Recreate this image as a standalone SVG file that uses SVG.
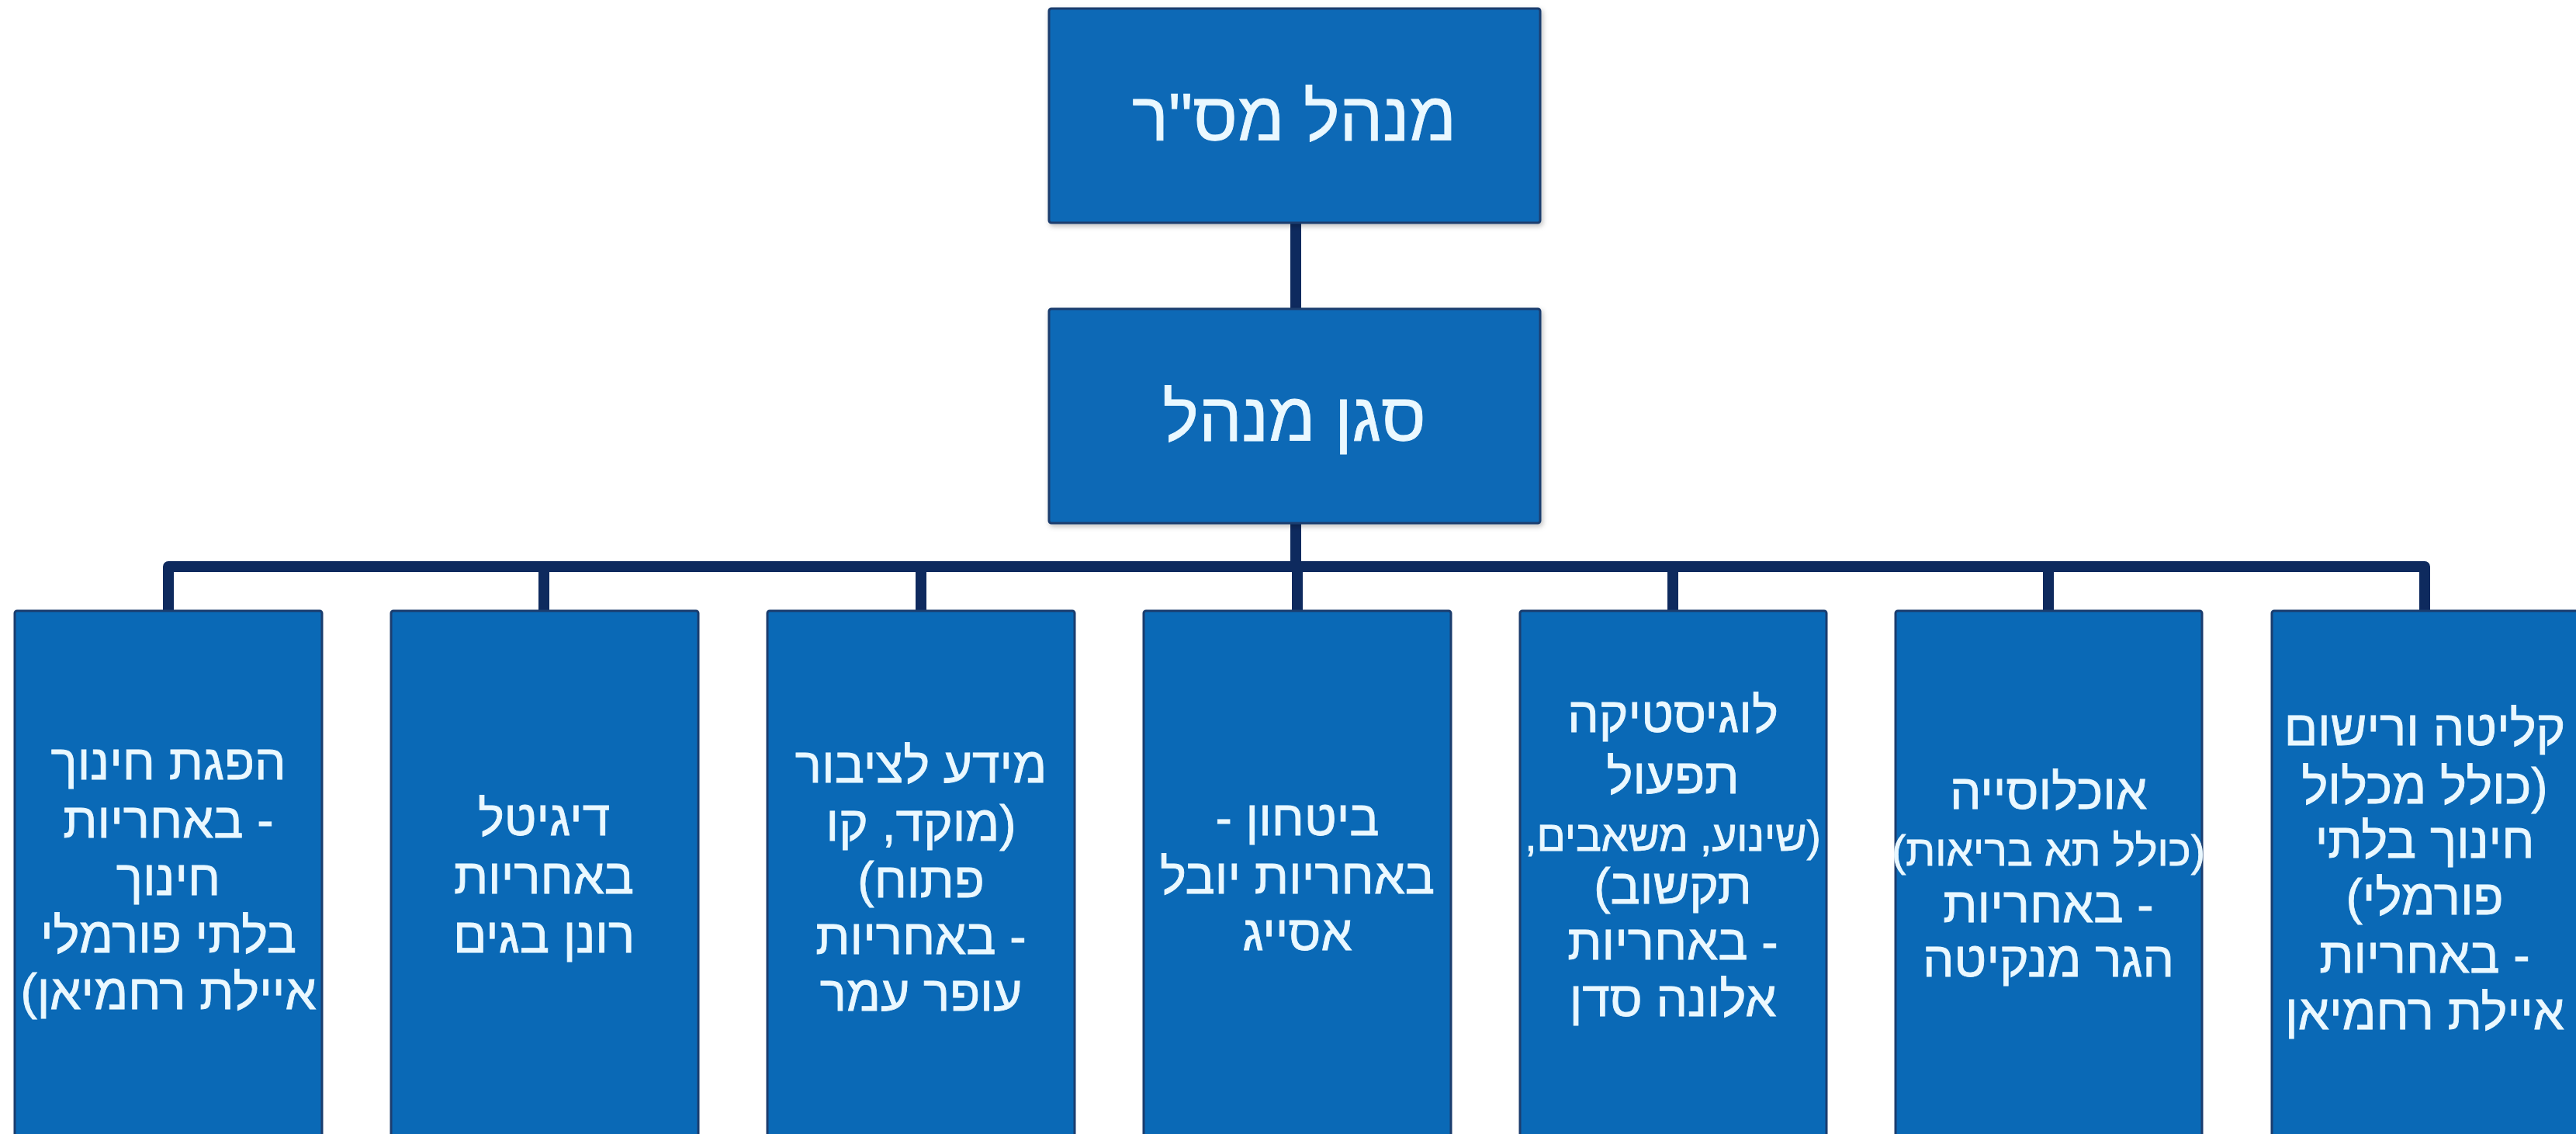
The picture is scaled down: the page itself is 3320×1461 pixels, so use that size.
<svg xmlns="http://www.w3.org/2000/svg" width="3320" height="1461" viewBox="0 0 3320 1461">
<defs>
<style>
.box{fill:#0a69b6;stroke:#1b3d6e;stroke-width:3}
.t{font-family:"Liberation Sans","DejaVu Sans",Arial,sans-serif;fill:#eaf8ff;stroke:#eaf8ff;stroke-width:0.8;text-anchor:middle;direction:rtl}
.big{font-size:88px}
.n{font-size:64px}
.s{font-size:55px}
.conn{fill:none;stroke:#0e2a5e;stroke-width:14;stroke-linejoin:round}
</style>
<filter id="sh" x="-5%" y="-5%" width="110%" height="110%">
<feDropShadow dx="2" dy="3" stdDeviation="3" flood-color="#000" flood-opacity="0.25"/>
</filter>
</defs>
<rect width="3320" height="1461" fill="#ffffff"/>
<g id="connectors" class="conn">
<path d="M1670 287 V398"/>
<path d="M1670 674 V730"/>
<path d="M217 787 V730 H3125 V787"/>
<path d="M701 730 V787"/>
<path d="M1187 730 V787"/>
<path d="M1672 730 V787"/>
<path d="M2156 730 V787"/>
<path d="M2640 730 V787"/>
</g>
<g id="n_manager">
<rect class="box" x="1352" y="11" width="633" height="276" rx="3" filter="url(#sh)"/>
<text class="t big" x="1668" y="181">מנהל מס"ר</text>
</g>
<g id="n_deputy">
<rect class="box" x="1352" y="398" width="633" height="276" rx="3" filter="url(#sh)"/>
<text class="t big" x="1668" y="568">סגן מנהל</text>
</g>
<g id="n_edu">
<rect class="box" x="19" y="787" width="396" height="720" rx="3"/>
<text class="t n" x="217"><tspan x="217" y="1004">הפגת חינוך</tspan><tspan x="217" y="1079">- באחריות</tspan><tspan x="217" y="1153">חינוך</tspan><tspan x="217" y="1227">בלתי פורמלי</tspan><tspan x="217" y="1300">איילת רחמיאן)</tspan></text>
</g>
<g id="n_digital">
<rect class="box" x="504" y="787" width="396" height="720" rx="3"/>
<text class="t n" x="701"><tspan x="701" y="1076">דיגיטל</tspan><tspan x="701" y="1151">באחריות</tspan><tspan x="701" y="1227">רונן בגים</tspan></text>
</g>
<g id="n_info">
<rect class="box" x="989" y="787" width="396" height="720" rx="3"/>
<text class="t n" x="1187"><tspan x="1187" y="1008">מידע לציבור</tspan><tspan x="1187" y="1083">(מוקד, קו</tspan><tspan x="1187" y="1156">פתוח)</tspan><tspan x="1187" y="1229">- באחריות</tspan><tspan x="1187" y="1302">עופר עמר</tspan></text>
</g>
<g id="n_security">
<rect class="box" x="1474" y="787" width="396" height="720" rx="3"/>
<text class="t n" x="1672"><tspan x="1672" y="1076">ביטחון -</tspan><tspan x="1672" y="1151">באחריות יובל</tspan><tspan x="1672" y="1224">אסייג</tspan></text>
</g>
<g id="n_logistics">
<rect class="box" x="1959" y="787" width="395" height="720" rx="3"/>
<text class="t n" x="2156"><tspan x="2156" y="943">לוגיסטיקה</tspan><tspan x="2156" y="1022">תפעול</tspan><tspan class="s" x="2156" y="1096">(שינוע, משאבים,</tspan><tspan x="2156" y="1164">תקשוב)</tspan><tspan x="2156" y="1236">- באחריות</tspan><tspan x="2156" y="1309">אלונה סדן</tspan></text>
</g>
<g id="n_population">
<rect class="box" x="2443" y="787" width="395" height="720" rx="3"/>
<text class="t n" x="2640"><tspan x="2640" y="1042">אוכלוסייה</tspan><tspan class="s" x="2640" y="1115">(כולל תא בריאות)</tspan><tspan x="2640" y="1188">- באחריות</tspan><tspan x="2640" y="1258">הגר מנקיטה</tspan></text>
</g>
<g id="n_intake">
<rect class="box" x="2928" y="787" width="420" height="720" rx="3"/>
<text class="t n" x="3125"><tspan x="3125" y="960">קליטה ורישום</tspan><tspan x="3125" y="1035">(כולל מכלול</tspan><tspan x="3125" y="1105">חינוך בלתי</tspan><tspan x="3125" y="1178">פורמלי)</tspan><tspan x="3125" y="1253">- באחריות</tspan><tspan x="3125" y="1326">איילת רחמיאן</tspan></text>
</g>
</svg>
